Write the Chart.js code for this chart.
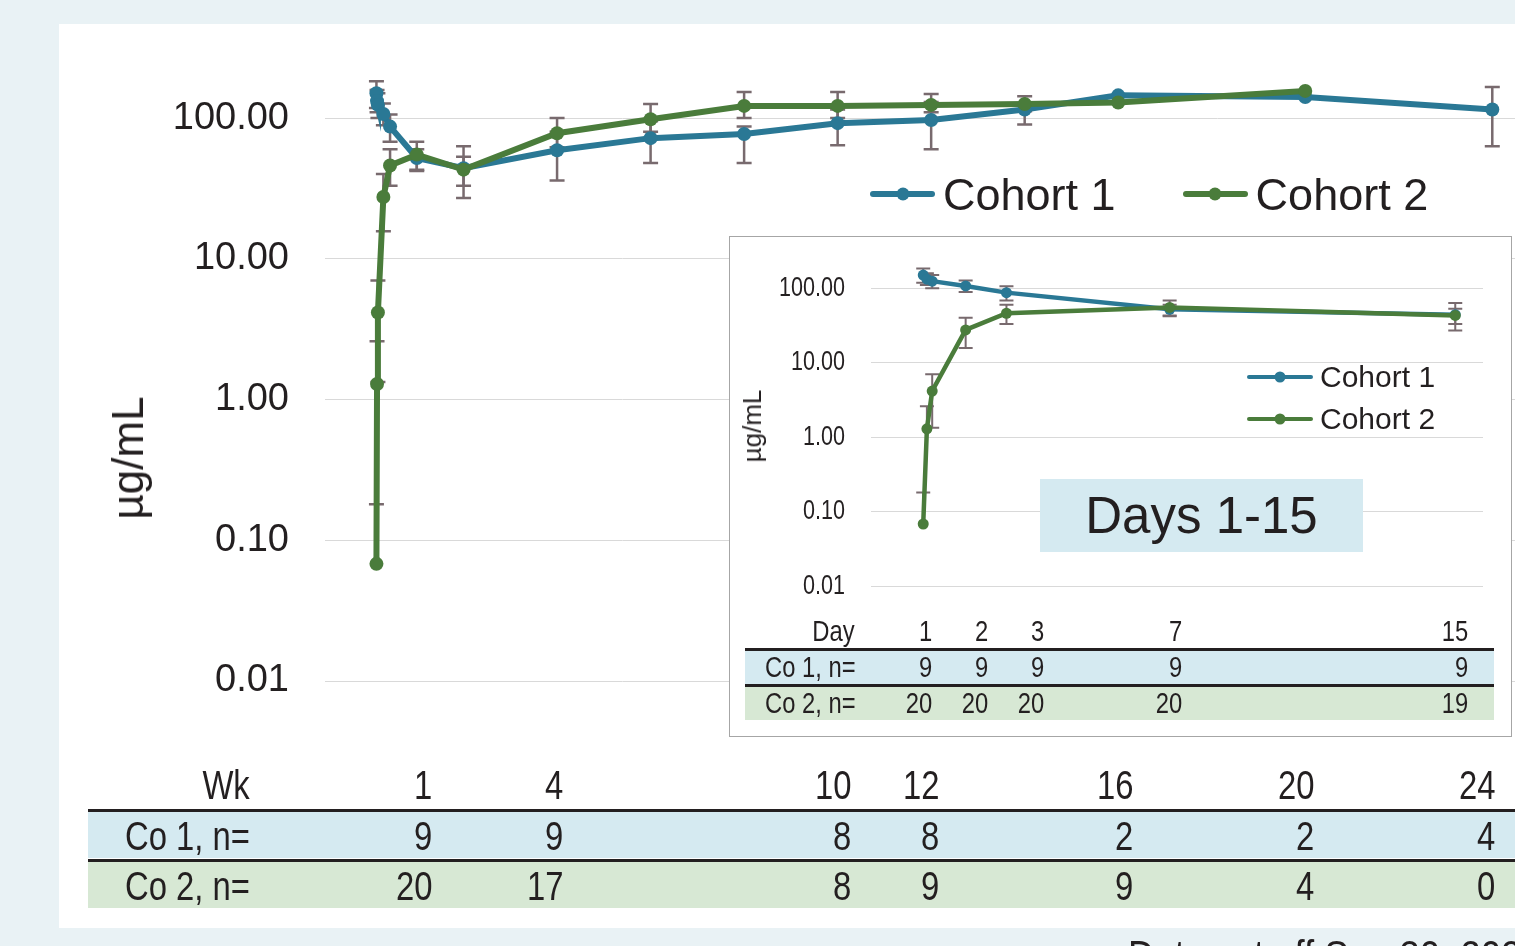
<!DOCTYPE html>
<html>
<head>
<meta charset="utf-8">
<script src="https://cdn.jsdelivr.net/npm/chart.js@4.4.0/dist/chart.umd.min.js"></script>
<style>
  body {
    margin: 0;
    width: 1515px;
    height: 946px;
    overflow: hidden;
    position: relative;
    background: #e9f2f5;
    font-family: "Liberation Sans", Arial, sans-serif;
    color: #231f20;
  }
  .abs { position: absolute; }
  #panel { left: 59px; top: 24px; width: 1456px; height: 904px; background: #fff; }
  #inset-box {
    left: 729px; top: 236px; width: 783px; height: 501px;
    box-sizing: border-box; border: 1.5px solid #a6a6a6; background: #fff;
  }
  .ytitle { transform: translate(-50%, -50%) rotate(-90deg); white-space: nowrap; line-height: 1; }
  .cell { position: absolute; white-space: nowrap; }
  .cell span { display: inline-block; transform: scaleX(0.82); }
  .cell.r span { transform-origin: right center; }
  .cell.l span { transform-origin: left center; }
  .rule { position: absolute; background: #231f20; }
  .row1 { position: absolute; background: #d5eaf1; }
  .row2 { position: absolute; background: #d7e8d4; }
  .legend-item { display: flex; align-items: center; white-space: nowrap; }
  .swatch { position: relative; border-radius: 3px; }
  .swatch i { position: absolute; left: 50%; top: 50%; border-radius: 50%; transform: translate(-50%, -50%); }
  #days-box {
    left: 1040px; top: 479px; width: 323px; height: 73px; background: #d5eaf1;
    font-size: 51px; line-height: 73px; text-align: center;
  }
  #cutoff { left: 1128px; top: 935px; font-size: 42px; line-height: 42px; white-space: nowrap; }
  #cutoff span { display: inline-block; transform: scaleX(0.87); transform-origin: left center; }
</style>
</head>
<body>
<div id="panel" class="abs"></div>
<canvas id="main-chart" class="abs" style="left:59px;top:-36px" width="1456" height="777"></canvas>
<div class="abs ytitle" style="left:128px;top:458px;font-size:44px">µg/mL</div>
<div id="main-legend" class="abs" style="left:870px;top:194px;transform:translateY(-50%);display:flex"></div>

<div id="inset-box" class="abs"></div>
<canvas id="inset-chart" class="abs" style="left:730px;top:236px" width="780" height="374"></canvas>
<div class="abs ytitle" style="left:752px;top:426px;font-size:26px">µg/mL</div>
<div id="inset-legend" class="abs" style="left:1247px;top:356px"></div>
<div id="days-box" class="abs">Days 1-15</div>

<div id="main-table" class="abs" style="left:0;top:0;width:1515px;height:946px;pointer-events:none"></div>
<div id="inset-table" class="abs" style="left:0;top:0;width:1515px;height:946px;pointer-events:none"></div>

<div id="cutoff" class="abs"><span>Data cut off Sep 30, 2023</span></div>

<script>
// ---- data ----
const yTicks = [0.01, 0.1, 1, 10, 100];

// sampling day, mean and error bar ends (µg/mL)
const co1Days = [0.96, 1.05, 1.18, 2, 3, 7, 14, 28, 42, 56, 70, 84, 98, 112, 140, 168];
const co1Mean = [150, 132, 124, 107, 87, 52, 44, 59, 72, 77, 92, 97, 115, 145, 141, 115];
const co1Hi = [183, 158, 150, 127, 106, 60, 53, 80, 95, 87, 115, 130, 125, null, null, 166];
const co1Lo = [118, 110, 100, 89, 68, 42, 33, 36, 48, 48, 64, 60, 90, null, null, 63];

const co2Days = [0.96, 1.05, 1.18, 2, 3, 7, 14, 28, 42, 56, 70, 84, 98, 112, 140];
const co2Mean = [0.068, 1.29, 4.15, 27.5, 46, 55, 43, 78, 98, 122, 122, 124, 126, 129, 156];
const co2Hi = [0.18, 2.6, 7.0, 40, 60, 68, 63, 100, 126, 153, 153, 148, 143, null, null];
const co2Lo = [null, null, 1.33, 15.7, 33, 43, 27, 62, 80, 100, 100, 110, 112, null, null];

// n tables
const wkCols = ["1", "4", "10", "12", "16", "20", "24"];
const co1WkN = [9, 9, 8, 8, 2, 2, 4];
const co2WkN = [20, 17, 8, 9, 9, 4, 0];
const dayCols = ["1", "2", "3", "7", "15"];
const co1DayN = [9, 9, 9, 9, 9];
const co2DayN = [20, 20, 20, 20, 19];

const BLUE = "#2a7895";
const GREEN = "#4a7c3b";
const ERR = "#786a6e";
const TEXT = "#231f20";

const toPoints = (days, mean, hi, lo, maxDay) =>
  days
    .map((d, i) => ({ x: d, y: mean[i], hi: hi[i], lo: lo[i] }))
    .filter((p) => p.x <= maxDay);

// error bars drawn under the lines
const errorBars = {
  id: "errorBars",
  beforeDatasetsDraw(chart, args, opts) {
    const { ctx, scales } = chart;
    const x = scales.x;
    const y = scales.y;
    ctx.save();
    ctx.strokeStyle = opts.color;
    ctx.lineWidth = opts.width;
    chart.data.datasets.forEach((ds) => {
      ds.data.forEach((p) => {
        if (p.hi == null && p.lo == null) return;
        const px = x.getPixelForValue(p.x);
        const top = y.getPixelForValue(p.hi == null ? p.y : p.hi);
        const bot = y.getPixelForValue(p.lo == null ? p.y : p.lo);
        ctx.beginPath();
        ctx.moveTo(px, top);
        ctx.lineTo(px, bot);
        if (p.hi != null) {
          ctx.moveTo(px - opts.cap, top);
          ctx.lineTo(px + opts.cap, top);
        }
        if (p.lo != null) {
          ctx.moveTo(px - opts.cap, bot);
          ctx.lineTo(px + opts.cap, bot);
        }
        ctx.stroke();
      });
    });
    ctx.restore();
  },
};

// condensed y tick labels (the inset uses a narrow face)
const narrowTicks = {
  id: "narrowTicks",
  afterDraw(chart, args, opts) {
    if (!opts.enabled) return;
    const { ctx, chartArea } = chart;
    const y = chart.scales.y;
    ctx.save();
    ctx.font = `${opts.size}px 'Liberation Sans', Arial, sans-serif`;
    ctx.fillStyle = TEXT;
    ctx.textAlign = "right";
    ctx.textBaseline = "middle";
    y.ticks.forEach((t) => {
      ctx.save();
      ctx.translate(chartArea.left - opts.pad, y.getPixelForValue(t.value));
      ctx.scale(opts.squeeze, 1);
      ctx.fillText(Number(t.value).toFixed(2), 0, 0);
      ctx.restore();
    });
    ctx.restore();
  },
};

const makeChart = (canvasId, cfg) => {
  const ctx = document.getElementById(canvasId).getContext("2d");
  return new Chart(ctx, {
    type: "line",
    data: {
      datasets: [
        {
          label: "Cohort 1",
          data: toPoints(co1Days, co1Mean, co1Hi, co1Lo, cfg.maxDay),
          borderColor: BLUE,
          backgroundColor: BLUE,
          borderWidth: cfg.lineWidth,
          pointRadius: cfg.radius,
          pointBorderWidth: 0,
          pointBackgroundColor: BLUE,
          order: 1,
        },
        {
          label: "Cohort 2",
          data: toPoints(co2Days, co2Mean, co2Hi, co2Lo, cfg.maxDay),
          borderColor: GREEN,
          backgroundColor: GREEN,
          borderWidth: cfg.lineWidth,
          pointRadius: cfg.radius,
          pointBorderWidth: 0,
          pointBackgroundColor: GREEN,
          order: 0,
        },
      ],
    },
    options: {
      responsive: false,
      animation: false,
      layout: { padding: cfg.padding, autoPadding: false },
      scales: {
        x: { type: "linear", min: cfg.xMin, max: cfg.xMax, display: false },
        y: {
          type: "logarithmic",
          min: 0.01,
          max: cfg.yMax,
          afterBuildTicks: (scale) => {
            scale.ticks = yTicks.map((v) => ({ value: v }));
          },
          afterFit: (scale) => {
            scale.width = cfg.axisWidth;
          },
          border: { display: false },
          grid: { color: "#d9d9d9", lineWidth: 1, drawTicks: false },
          ticks: {
            display: !cfg.narrow,
            padding: cfg.tickPad,
            color: TEXT,
            font: { family: "'Liberation Sans', Arial, sans-serif", size: cfg.tickSize },
            callback: (v) => Number(v).toFixed(2),
          },
        },
      },
      plugins: {
        legend: { display: false },
        tooltip: { enabled: false },
        errorBars: { color: ERR, width: cfg.errWidth, cap: cfg.cap },
        narrowTicks: { enabled: !!cfg.narrow, size: cfg.tickSize, pad: cfg.tickPad, squeeze: cfg.narrow || 1 },
      },
    },
    plugins: [errorBars, narrowTicks],
  });
};

const mainChart = makeChart("main-chart", {
  maxDay: 999,
  xMin: -6.74,
  xMax: 171.4,
  yMax: 466,
  padding: { top: 60, bottom: 60, left: 0, right: 0 },
  axisWidth: 266,
  tickPad: 36,
  tickSize: 38,
  lineWidth: 6,
  radius: 7,
  errWidth: 2.5,
  cap: 7.5,
});

const insetChart = makeChart("inset-chart", {
  maxDay: 15,
  xMin: -0.32,
  xMax: 14.68,
  yMax: 443,
  padding: { top: 4, bottom: 24, left: 0, right: 27 },
  axisWidth: 141,
  tickPad: 26,
  tickSize: 28,
  narrow: 0.77,
  lineWidth: 4.5,
  radius: 5.5,
  errWidth: 2,
  cap: 7,
});

// html legends built from the chart datasets
const makeLegend = (chart, elId, o) => {
  const el = document.getElementById(elId);
  chart.data.datasets.forEach((ds, i) => {
    const item = document.createElement("div");
    item.className = "legend-item";
    item.style.height = o.rowH + "px";
    if (i > 0 && o.gap) item.style.marginLeft = o.gap + "px";
    const sw = document.createElement("span");
    sw.className = "swatch";
    sw.style.width = o.lineLen + "px";
    sw.style.height = o.lineW + "px";
    sw.style.background = ds.borderColor;
    const dot = document.createElement("i");
    dot.style.width = dot.style.height = o.dot + "px";
    dot.style.background = ds.borderColor;
    sw.appendChild(dot);
    const txt = document.createElement("span");
    txt.textContent = ds.label;
    txt.style.fontSize = o.font + "px";
    txt.style.marginLeft = o.textGap + "px";
    txt.style.lineHeight = "1";
    item.appendChild(sw);
    item.appendChild(txt);
    el.appendChild(item);
  });
};

makeLegend(mainChart, "main-legend", { rowH: 50, lineLen: 65, lineW: 6, dot: 13, font: 45, textGap: 8, gap: 67 });
makeLegend(insetChart, "inset-legend", { rowH: 42, lineLen: 66, lineW: 4.5, dot: 11, font: 30, textGap: 7, gap: 0 });

// n tables
const makeTable = (elId, t) => {
  const el = document.getElementById(elId);
  const px = (v) => v + "px";
  const add = (cls, css, text) => {
    const d = document.createElement("div");
    d.className = cls;
    Object.assign(d.style, css);
    if (text != null) {
      const s = document.createElement("span");
      s.textContent = text;
      d.appendChild(s);
    }
    el.appendChild(d);
  };
  // row bands and rules
  add("row1", { left: px(t.left), top: px(t.rows[1]), width: px(t.width), height: px(t.rowH) });
  add("row2", { left: px(t.left), top: px(t.rows[2]), width: px(t.width), height: px(t.rowH) });
  add("rule", { left: px(t.left), top: px(t.rows[1] - 2), width: px(t.width), height: "3px" });
  add("rule", { left: px(t.left), top: px(t.rows[2] - 2), width: px(t.width), height: "3px" });
  const rowData = [
    { label: t.headLabel, vals: t.head, labelRight: true },
    { label: "Co 1, n=", vals: t.co1 },
    { label: "Co 2, n=", vals: t.co2 },
  ];
  rowData.forEach((r, ri) => {
    const top = ri === 0 ? t.rows[1] - 2 - t.rowH : t.rows[ri] + t.shift;
    const base = { top: px(top), height: px(t.rowH), lineHeight: px(t.rowH), fontSize: px(t.font) };
    if (r.labelRight) add("cell r", { ...base, right: px(1515 - t.headRight) }, r.label);
    else add("cell l", { ...base, left: px(t.labelLeft) }, r.label);
    r.vals.forEach((v, ci) => {
      add("cell r", { ...base, right: px(1515 - t.colRight[ci]) }, String(v));
    });
  });
};

makeTable("main-table", {
  left: 88, width: 1427, rows: [0, 811, 861], rowH: 47, font: 40, shift: 2,
  headLabel: "Wk", headRight: 250, labelLeft: 125,
  head: wkCols, co1: co1WkN, co2: co2WkN,
  colRight: [432, 563, 851, 939, 1133, 1314, 1495],
});

makeTable("inset-table", {
  left: 745, width: 749, rows: [0, 650, 686], rowH: 34, font: 29, shift: 0,
  headLabel: "Day", headRight: 855, labelLeft: 765,
  head: dayCols, co1: co1DayN, co2: co2DayN,
  colRight: [932, 988, 1044, 1182, 1468],
});
</script>
</body>
</html>
